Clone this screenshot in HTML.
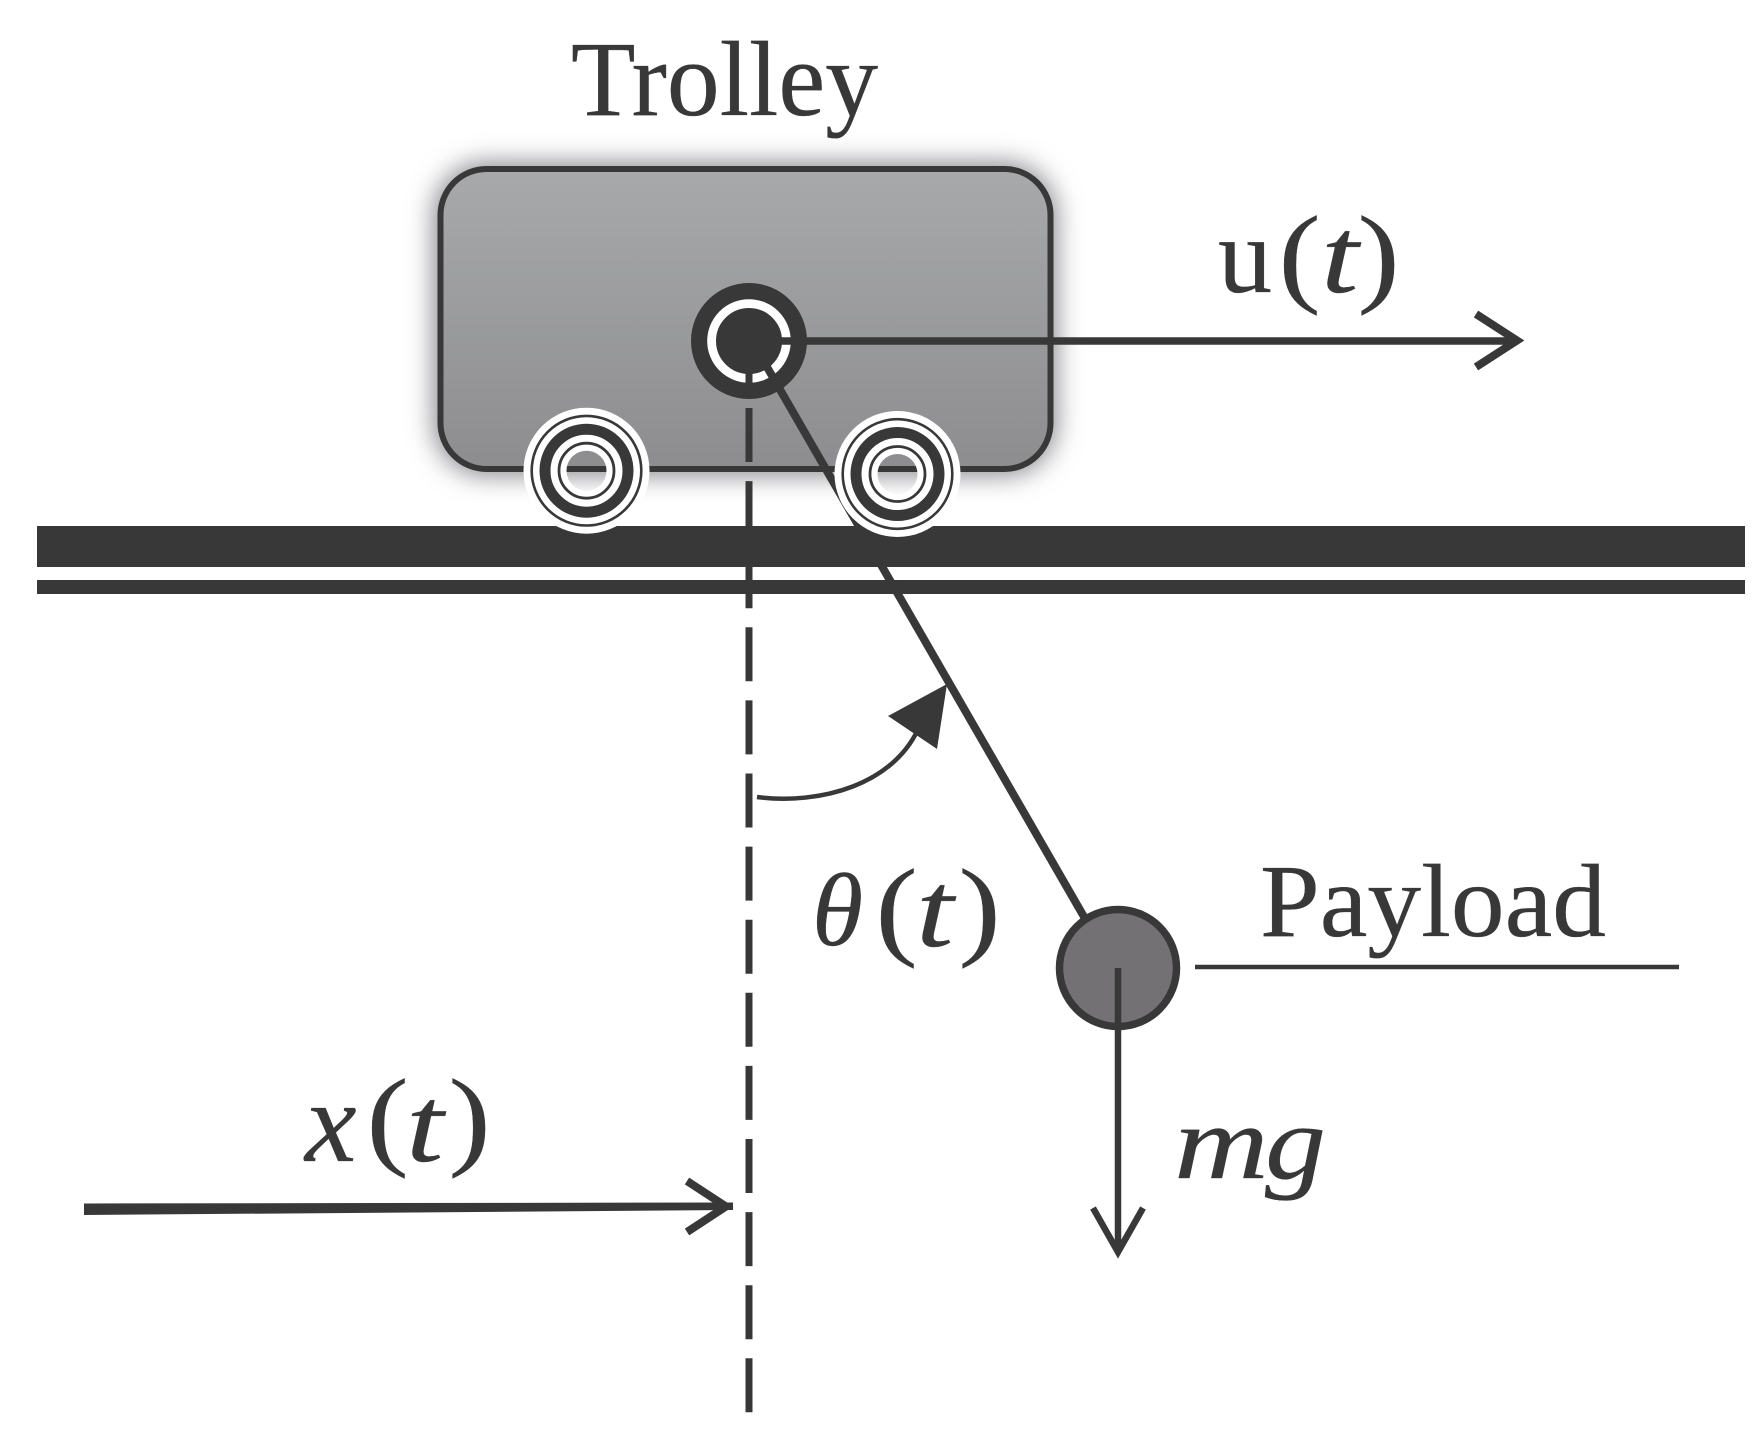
<!DOCTYPE html>
<html><head><meta charset="utf-8"><style>
html,body{margin:0;padding:0;background:#fff}
svg{display:block}
text{fill:#383838;stroke:#383838;stroke-width:.35;font-family:"Liberation Serif",serif}
.i{font-style:italic}
</style></head><body>
<svg width="1763" height="1432" viewBox="0 0 1763 1432" xmlns="http://www.w3.org/2000/svg">
<defs>
<linearGradient id="g" x1="0" y1="0" x2="0" y2="1"><stop offset="0" stop-color="#a8a9ab"/><stop offset="1" stop-color="#8d8d8f"/></linearGradient>
<filter id="b" x="-15%" y="-30%" width="130%" height="160%"><feGaussianBlur stdDeviation="13"/></filter>
<mask id="w1" maskUnits="userSpaceOnUse" x="0" y="0" width="1763" height="1432"><rect width="1763" height="1432" fill="#fff"/><circle cx="586.5" cy="470.7" r="20" fill="#000"/></mask>
<mask id="w2" maskUnits="userSpaceOnUse" x="0" y="0" width="1763" height="1432"><rect width="1763" height="1432" fill="#fff"/><circle cx="897.5" cy="474" r="20" fill="#000"/></mask>
</defs>

<rect x="434" y="163" width="622" height="312" rx="52" fill="#85858a" filter="url(#b)"/>
<rect x="440.5" y="169" width="610" height="300" rx="46" fill="url(#g)" stroke="#383838" stroke-width="6"/>

<rect x="37" y="526" width="1708" height="41" fill="#383838"/>
<rect x="37" y="580" width="1708" height="14" fill="#383838"/>

<line x1="749" y1="408" x2="749" y2="1430" stroke="#383838" stroke-width="7" stroke-dasharray="54 19.1"/>

<circle cx="749" cy="341" r="58" fill="#383838"/>
<circle cx="749" cy="341" r="37.4" fill="none" stroke="#fff" stroke-width="8.8"/>
<line x1="749" y1="341" x2="1515" y2="341" stroke="#383838" stroke-width="7.5"/>
<line x1="749" y1="341" x2="749" y2="392" stroke="#383838" stroke-width="7"/>
<line x1="752" y1="341" x2="1087" y2="922" stroke="#383838" stroke-width="8"/>
<polyline points="1476,314 1517,340.5 1476,367" fill="none" stroke="#383838" stroke-width="8"/>

<g mask="url(#w1)">
<circle cx="586.5" cy="470.7" r="63" fill="#fff"/>
<circle cx="586.5" cy="470.7" r="54.8" fill="none" stroke="#383838" stroke-width="2.6"/>
<circle cx="586.5" cy="470.7" r="41.5" fill="none" stroke="#383838" stroke-width="11"/>
<circle cx="586.5" cy="470.7" r="27.5" fill="none" stroke="#383838" stroke-width="2.8"/>
</g>
<g mask="url(#w2)">
<circle cx="897.5" cy="474" r="63" fill="#fff"/>
<circle cx="897.5" cy="474" r="54.8" fill="none" stroke="#383838" stroke-width="2.6"/>
<circle cx="897.5" cy="474" r="41.5" fill="none" stroke="#383838" stroke-width="11"/>
<circle cx="897.5" cy="474" r="27.5" fill="none" stroke="#383838" stroke-width="2.8"/>
</g>

<path d="M757 797 C 820 805, 895 785, 920 725" fill="none" stroke="#383838" stroke-width="4.5"/>
<polygon points="947,684 888,716 937,749" fill="#383838"/>

<circle cx="1118" cy="968" r="58.5" fill="#737174" stroke="#383838" stroke-width="7.5"/>
<line x1="1118" y1="968" x2="1118" y2="1250" stroke="#383838" stroke-width="6.5"/>
<polyline points="1093,1208 1118,1252 1143,1208" fill="none" stroke="#383838" stroke-width="6.5"/>
<line x1="1195" y1="967" x2="1679" y2="967" stroke="#383838" stroke-width="4.5"/>

<polygon points="84,1203.5 733,1202.5 733,1210 84,1215" fill="#383838"/>
<polyline points="687,1181 726,1206.5 687,1232" fill="none" stroke="#383838" stroke-width="8"/>

<text x="571" y="115" font-size="107" textLength="307" lengthAdjust="spacingAndGlyphs">Trolley</text>
<text x="1260" y="936" font-size="104" textLength="346" lengthAdjust="spacingAndGlyphs">Payload</text>

<text x="1218" y="292" font-size="108">u</text>
<text transform="translate(1278.5,292) scale(1.15,1)" font-size="110">(</text>
<text class="i" transform="translate(1321,292) scale(1.25,1)" font-size="108">t</text>
<text transform="translate(1357.5,292) scale(1.15,1)" font-size="110">)</text>

<text class="i" x="812" y="945" font-size="104">θ</text>
<text transform="translate(875.5,945) scale(1.15,1)" font-size="110">(</text>
<text class="i" transform="translate(916,946) scale(1.25,1)" font-size="108">t</text>
<text transform="translate(958.5,945) scale(1.15,1)" font-size="110">)</text>

<text class="i" transform="translate(1174,1178) scale(1.25,1)" font-size="105">m</text>
<text class="i" transform="translate(1265,1178) scale(1.16,1)" font-size="105">g</text>

<text class="i" x="305" y="1161" font-size="116">x</text>
<text transform="translate(366.5,1155) scale(1.15,1)" font-size="110">(</text>
<text class="i" transform="translate(406,1161) scale(1.25,1)" font-size="108">t</text>
<text transform="translate(448.5,1155) scale(1.15,1)" font-size="110">)</text>
</svg>
</body></html>
